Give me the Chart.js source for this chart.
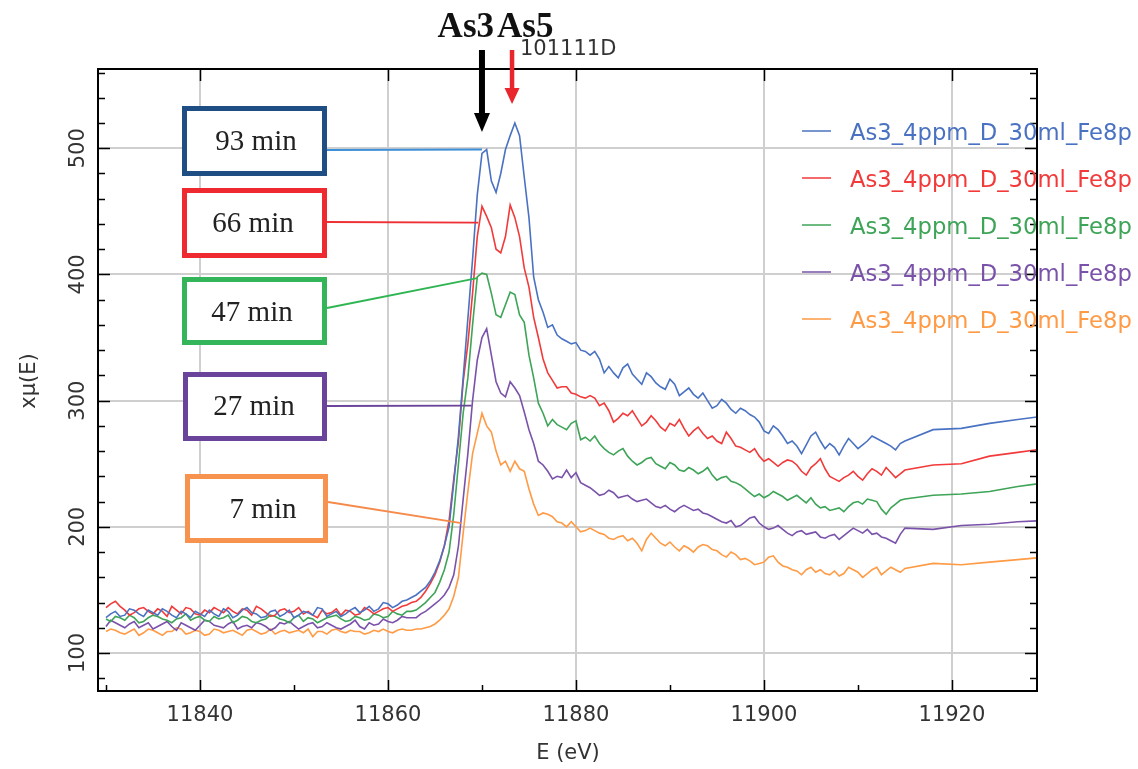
<!DOCTYPE html>
<html>
<head>
<meta charset="utf-8">
<script src="https://cdn.jsdelivr.net/npm/chart.js@4.4.1/dist/chart.umd.min.js"></script>
<style>
  html, body { margin: 0; padding: 0; background: #fff; }
</style>
</head>
<body>
<canvas id="xanes" width="1138" height="769"></canvas>
<script>
// energy grid (eV) shared by all scans
const energy = [
  11830, 11830.5, 11831, 11831.5, 11832, 11832.5, 11833, 11833.5, 11834, 11834.5,
  11835, 11835.5, 11836, 11836.5, 11837, 11837.5, 11838, 11838.5, 11839, 11839.5,
  11840, 11840.5, 11841, 11841.5, 11842, 11842.5, 11843, 11843.5, 11844, 11844.5,
  11845, 11845.5, 11846, 11846.5, 11847, 11847.5, 11848, 11848.5, 11849, 11849.5,
  11850, 11850.5, 11851, 11851.5, 11852, 11852.5, 11853, 11853.5, 11854, 11854.5,
  11855, 11855.5, 11856, 11856.5, 11857, 11857.5, 11858, 11858.5, 11859, 11859.5,
  11860, 11860.5, 11861, 11861.5, 11862, 11862.5, 11863, 11863.5, 11864, 11864.5,
  11865, 11865.5, 11866, 11866.5, 11867, 11867.5, 11868, 11868.5, 11869, 11869.5,
  11870, 11870.5, 11871, 11871.5, 11872, 11872.5, 11873, 11873.5, 11874, 11874.5,
  11875, 11875.5, 11876, 11876.5, 11877, 11877.5, 11878, 11878.5, 11879, 11879.5,
  11880, 11880.5, 11881, 11881.5, 11882, 11882.5, 11883, 11883.5, 11884, 11884.5,
  11885, 11885.5, 11886, 11886.5, 11887, 11887.5, 11888, 11888.5, 11889, 11889.5,
  11890, 11890.5, 11891, 11891.5, 11892, 11892.5, 11893, 11893.5, 11894, 11894.5,
  11895, 11895.5, 11896, 11896.5, 11897, 11897.5, 11898, 11898.5, 11899, 11899.5,
  11900, 11900.5, 11901, 11901.5, 11902, 11902.5, 11903, 11903.5, 11904, 11904.5,
  11905, 11905.5, 11906, 11906.5, 11907, 11907.5, 11908, 11908.5, 11909, 11909.5,
  11910, 11910.5, 11911, 11911.5, 11912, 11912.5, 11913, 11913.5, 11914, 11914.5,
  11915, 11918, 11921, 11924, 11927, 11930
]

const mu93min = [
  128, 131, 133, 129, 130, 135, 134, 131, 129, 134, 132, 130, 135, 133, 130, 128, 133,
  131, 128, 133, 131, 129, 134, 131, 129, 135, 133, 128, 130, 134, 136, 132, 131, 128,
  129, 133, 134, 129, 131, 134, 128, 130, 133, 132, 130, 136, 135, 129, 131, 133, 129,
  131, 134, 136, 132, 134, 137, 133, 135, 140, 139, 136, 138, 141, 142, 144,
  146, 149, 152, 157, 164, 173, 185, 200, 235, 272, 318, 365, 412, 463, 496, 499, 474,
  465, 480, 499, 510, 520, 510, 477, 445, 398, 380, 370, 358, 360, 352, 349, 347, 345,
  346, 340, 339, 336,
  339, 333, 322, 327, 322, 318, 326, 329, 321, 317, 313, 322, 319, 314, 311, 309, 317,
  313, 304, 307, 310, 305, 302, 306, 300, 294, 296, 301, 298, 293, 290, 294, 292, 289,
  287, 283, 276, 274, 280, 277, 272, 266, 268, 264, 258, 265, 272, 275, 268, 262, 266,
  263, 257, 264, 270, 266, 262, 265, 268, 272, 270, 268, 266, 264, 261, 266, 268,
  277, 278, 282, 285, 288
]
const mu66min = [
  136, 139, 141, 137, 134, 130, 132, 135, 136, 133, 131, 135, 133, 129, 137, 134, 131,
  136, 135, 131, 130, 134, 132, 136, 134, 132, 136, 133, 131, 135, 134, 130, 137, 135,
  132, 129, 130, 134, 135, 132, 133, 136, 131, 133, 130, 128, 134, 131, 132, 135, 130,
  134, 133, 130, 131, 136, 134, 131, 133, 135, 136, 133, 135, 137, 138, 140,
  141, 144, 149, 155, 162, 172, 185, 205, 238, 268, 315, 345, 385, 430, 454, 446, 437,
  420, 417, 430, 455, 445, 430, 405, 390, 366, 350, 333, 322, 316, 310, 311, 311, 306,
  305, 303, 302, 304,
  302, 296, 298, 292, 283, 286, 290, 288, 292, 286, 280, 283, 288, 284, 279, 276, 282,
  280, 285, 278, 272, 276, 279, 274, 270, 272, 268, 266, 275, 270, 264, 263, 261, 259,
  262, 256, 252, 254, 251, 248, 251, 253, 252, 249, 244, 241, 247, 250, 254, 246, 240,
  238, 236, 239, 241, 244, 240, 237, 242, 246, 244, 241, 247, 243, 239, 242, 245,
  249, 250, 256, 259, 262
]
const mu47min = [
  127, 125, 129, 128, 126, 130, 128, 124, 125, 128, 130, 129, 127, 126, 124, 127, 128,
  131, 126, 128, 129, 126, 125, 129, 127, 128, 130, 124, 126, 129, 128, 125, 124, 126,
  127, 130, 129, 127, 126, 124, 128, 130, 125, 128, 127, 124, 126, 128, 129, 130, 127,
  125, 126, 129, 128, 126, 127, 131, 130, 128, 129, 133, 131, 130, 133, 133,
  134, 137, 140, 144, 148, 156, 166, 180, 210, 250, 290, 318, 360, 398, 401, 400, 385,
  368, 366, 376, 386, 384, 368, 362, 336, 318, 298, 290, 280, 285, 281, 279, 277, 282,
  284, 269, 271, 268,
  272, 266, 262, 259, 257, 260, 262, 256, 252, 249, 251, 254, 255, 250, 248, 246, 251,
  249, 245, 244, 247, 245, 242, 244, 247, 241, 237, 239, 240, 236, 235, 233, 230, 227,
  224, 226, 223, 225, 228, 226, 224, 221, 223, 225, 222, 219, 223, 218, 215, 216, 213,
  214, 215, 212, 216, 219, 220, 218, 222, 221, 220, 214, 210, 215, 218, 221, 222,
  225, 226, 228, 232, 235
]
const mu27min = [
  121, 126, 124, 122, 120, 123, 125, 120, 122, 124, 119, 121, 123, 125, 121, 118, 124,
  122, 120, 118, 122, 126, 125, 122, 121, 120, 123, 125, 119, 121, 122, 120, 124, 123,
  121, 118, 120, 124, 123, 125, 122, 119, 121, 123, 124, 120, 121, 124, 122, 120, 119,
  121, 123, 126, 121, 119, 124, 122, 123, 127, 125, 124, 126, 129, 128, 128,
  128, 131, 133, 136, 139, 142, 146, 152, 162, 185, 222, 258, 300, 332, 350, 357, 336,
  315, 306, 303, 315, 310, 304, 291, 277, 266, 252, 249, 244, 238, 240, 239, 245, 239,
  243, 235, 233, 231,
  228, 225, 226, 229, 227, 223, 224, 225, 222, 220, 221, 222, 219, 216, 215, 217, 214,
  212, 215, 217, 215, 213, 214, 211, 210, 208, 206, 204, 203, 205, 200, 201, 204, 207,
  208, 203, 200, 198, 199, 201, 198, 195, 193, 196, 197, 194, 195, 196, 192, 191, 193,
  194, 190, 193, 196, 199, 197, 195, 198, 194, 195, 192, 191, 189, 187, 194, 199,
  198, 201, 202, 204, 205
]
const mu7min = [
  117, 119, 118, 116, 115, 117, 119, 114, 116, 119, 118, 116, 114, 117, 117, 120, 119,
  115, 116, 118, 117, 114, 115, 119, 118, 116, 117, 118, 116, 114, 118, 119, 117, 115,
  116, 119, 115, 117, 118, 116, 117, 118, 116, 119, 113, 117, 117, 115, 118, 119, 117,
  116, 118, 117, 117, 115, 116, 118, 117, 119, 117, 116, 118, 119, 118, 118,
  119, 119, 120, 121, 123, 126, 130, 135, 145, 160, 195, 228, 258, 274, 290, 280, 275,
  260, 249, 252, 244, 252, 246, 244, 230, 218, 209, 211, 210, 208, 204, 203, 200, 204,
  200, 196, 197, 199,
  197, 195, 194, 191, 190, 192, 193, 189, 191, 187, 181, 190, 195, 191, 187, 185, 188,
  184, 181, 185, 183, 180, 184, 186, 185, 182, 181, 178, 176, 180, 178, 174, 175, 173,
  170, 171, 172, 176, 177, 172, 169, 168, 166, 165, 162, 166, 168, 164, 166, 163, 162,
  165, 161, 163, 168, 166, 164, 160, 163, 166, 168, 162, 165, 168, 166, 164, 167,
  171, 170, 172, 174, 176
]

const scanNames = [
  'As3_4ppm_D_30ml_Fe8p', 'As3_4ppm_D_30ml_Fe8p', 'As3_4ppm_D_30ml_Fe8p',
  'As3_4ppm_D_30ml_Fe8p', 'As3_4ppm_D_30ml_Fe8p'
]
const timeLabels = ['93 min', '66 min', '47 min', '27 min', '7 min']
// where each callout line meets its curve (E, xmu)
const calloutE = [11870.0, 11869.6, 11869.5, 11868.9, 11867.8]
const calloutMu = [499, 441, 397, 296, 203]
const peakAs3 = 11870.0
const peakAs5 = 11873.2

const xTicks = [11840, 11860, 11880, 11900, 11920]
const yTicks = [100, 200, 300, 400, 500]

const lineColors = ['#4a72c2', '#f23a3a', '#3ea457', '#7a52aa', '#ff9a45']
const boxColors = ['#1f4e84', '#ee2a30', '#35b55a', '#6a449a', '#f7924f']
const linkColors = ['#3d8fd8', '#ee3035', '#2fb552', '#6a449a', '#f58a4a']

// box geometry in page pixels: x, y, w, h, text centre x/y, link start y
const boxes = [
  [182, 106, 145, 70, 256, 142, 150],
  [182, 188, 145, 70, 253, 224, 222],
  [182, 277, 145, 68, 252, 313, 308],
  [183, 372, 144, 69, 254, 407, 406],
  [185, 474, 143, 69, 263, 510, 502]
]

const tickFont = '21px "DejaVu Sans"'

const text = (ctx, s, x, y, font, color, align = 'center', base = 'middle', rot = 0) => {
    ctx.save()
    ctx.translate(x, y)
    if (rot) ctx.rotate(rot)
    ctx.font = font
    ctx.fillStyle = color
    ctx.textAlign = align
    ctx.textBaseline = base
    ctx.fillText(s, 0, 0)
    ctx.restore()
}

const arrow = (ctx, x, y0, y1, headLen, shaftW, headHalf, color) => {
    ctx.save()
    ctx.fillStyle = color
    ctx.fillRect(x - shaftW / 2, y0, shaftW, y1 - y0 - headLen + 2)
    ctx.beginPath()
    ctx.moveTo(x - headHalf, y1 - headLen)
    ctx.lineTo(x + headHalf, y1 - headLen)
    ctx.lineTo(x, y1)
    ctx.closePath()
    ctx.fill()
    ctx.restore()
}

const decorations = {
    id: 'decorations',
    afterDraw(chart) {
        const ctx = chart.ctx
        const { left, right, top, bottom } = chart.chartArea
        const xs = chart.scales.x
        const ys = chart.scales.y

        // frame + inward ticks
        ctx.save()
        ctx.strokeStyle = '#000'
        ctx.lineWidth = 2
        ctx.strokeRect(left, top, right - left, bottom - top)
        ctx.lineWidth = 1.5
        ctx.beginPath()
        for (let v = 80; v <= 560; v += 20) {
            const py = Math.round(ys.getPixelForValue(v)) + 0.5
            const len = v % 100 === 0 ? 12 : 7
            ctx.moveTo(left, py); ctx.lineTo(left + len, py)
            ctx.moveTo(right, py); ctx.lineTo(right - len, py)
        }
        for (let v = 11830; v <= 11920; v += 10) {
            const px = Math.round(xs.getPixelForValue(v)) + 0.5
            const major = v % 20 === 0
            ctx.moveTo(px, bottom); ctx.lineTo(px, bottom - (major ? 11 : 6))
            if (major) { ctx.moveTo(px, top); ctx.lineTo(px, top + 12) }
        }
        ctx.stroke()
        ctx.restore()

        // tick labels and axis titles
        xTicks.forEach(v => text(ctx, String(v), xs.getPixelForValue(v), 716, tickFont, '#333'))
        yTicks.forEach(v => text(ctx, String(v), 79, ys.getPixelForValue(v), tickFont, '#333', 'center', 'middle', -Math.PI / 2))
        text(ctx, 'E (eV)', 568, 754, tickFont, '#333')
        text(ctx, 'x\u03bc(E)', 30, 381, tickFont, '#333', 'center', 'middle', -Math.PI / 2)
        text(ctx, '101111D', 520, 50, '21px "DejaVu Sans"', '#333', 'left')

        // legend
        chart.data.datasets.forEach((ds, i) => {
            const ry = 134 + i * 47
            ctx.save()
            ctx.strokeStyle = ds.borderColor
            ctx.lineWidth = 1.5
            ctx.beginPath()
            ctx.moveTo(802, ry - 3); ctx.lineTo(831, ry - 3)
            ctx.stroke()
            ctx.restore()
            text(ctx, ds.label, 850, ry, '22.7px "DejaVu Sans"', ds.borderColor, 'left')
        })

        // time callouts
        boxes.forEach((b, i) => {
            const [bx, by, bw, bh, tx, ty, ly] = b
            ctx.save()
            ctx.strokeStyle = linkColors[i]
            ctx.lineWidth = 1.8
            ctx.beginPath()
            ctx.moveTo(bx + bw, ly)
            ctx.lineTo(xs.getPixelForValue(calloutE[i]), ys.getPixelForValue(calloutMu[i]))
            ctx.stroke()
            ctx.fillStyle = '#fff'
            ctx.fillRect(bx, by, bw, bh)
            ctx.strokeStyle = boxColors[i]
            ctx.lineWidth = 5
            ctx.strokeRect(bx + 2.5, by + 2.5, bw - 5, bh - 5)
            ctx.restore()
            text(ctx, timeLabels[i], tx, ty, '29px "Liberation Serif"', '#222')
        })

        // As3 / As5 markers
        const a3 = xs.getPixelForValue(peakAs3)
        const a5 = xs.getPixelForValue(peakAs5)
        arrow(ctx, a3, 50, 132, 19, 6, 8, '#000')
        arrow(ctx, a5, 50, 104, 16, 4.5, 7.5, '#e8262b')
        text(ctx, 'As3', 494, 37, 'bold 35px "Liberation Serif"', '#111', 'right', 'alphabetic')
        text(ctx, 'As5', 497, 37, 'bold 35px "Liberation Serif"', '#111', 'left', 'alphabetic')
    }
}

const toPoints = ys => energy.map((e, i) => ({ x: e, y: ys[i] }))
const scans = [mu93min, mu66min, mu47min, mu27min, mu7min]

new Chart(document.getElementById('xanes'), {
    type: 'line',
    data: {
        datasets: scans.map((s, i) => ({
            label: scanNames[i],
            data: toPoints(s),
            borderColor: lineColors[i],
            borderWidth: 1.6,
            pointRadius: 0,
            tension: 0,
            fill: false
        }))
    },
    options: {
        responsive: false,
        animation: false,
        devicePixelRatio: 1,
        layout: { padding: { top: 69, right: 101, left: 0, bottom: 0 } },
        plugins: { legend: { display: false }, tooltip: { enabled: false } },
        scales: {
            x: {
                type: 'linear',
                min: 11829.15,
                max: 11929.05,
                afterBuildTicks: s => { s.ticks = xTicks.map(v => ({ value: v })) },
                afterFit: s => { s.height = 78 },
                ticks: { display: false },
                grid: { color: '#cfcfcf', lineWidth: 2, drawTicks: false },
                border: { display: false }
            },
            y: {
                min: 69.9,
                max: 562.8,
                afterBuildTicks: s => { s.ticks = yTicks.map(v => ({ value: v })) },
                afterFit: s => { s.width = 98 },
                ticks: { display: false },
                grid: { color: '#cfcfcf', lineWidth: 2, drawTicks: false },
                border: { display: false }
            }
        }
    },
    plugins: [decorations]
})
</script>
</body>
</html>
